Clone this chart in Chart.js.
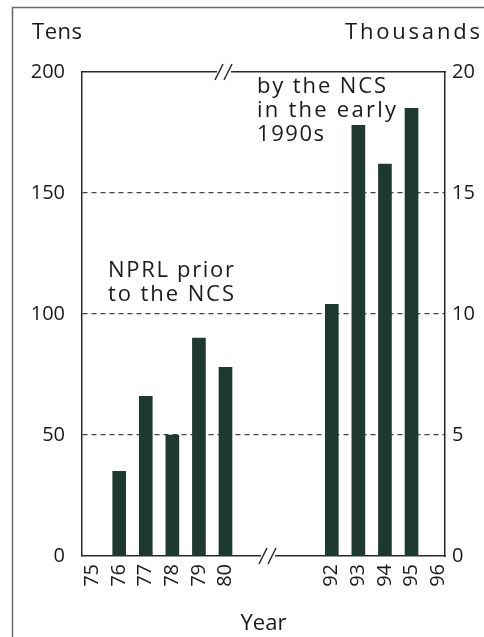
<!DOCTYPE html>
<html>
<head>
<meta charset="utf-8">
<script src="https://cdn.jsdelivr.net/npm/chart.js@4/dist/chart.umd.min.js"></script>
<style>
  html, body { margin: 0; padding: 0; background: #fff; }
  #wrap { width: 484px; height: 637px; position: relative; }
</style>
</head>
<body>
<div id="wrap"><canvas id="c" width="484" height="637"></canvas></div>
<script>
// Year slots along the x axis; blank slots form the broken stretch between 1980 and 1992
const yearSlots = ['75', '76', '77', '78', '79', '80', '', '', '', '92', '93', '94', '95', '96'];

// NPRL, before the NCS (left axis, tens)
const earlyYears = ['76', '77', '78', '79', '80'];
const earlyTens = [35, 66, 50, 90, 78];

// NCS, early 1990s (right axis, thousands)
const lateYears = ['92', '93', '94', '95'];
const lateThousands = [10.4, 17.8, 16.2, 18.5];

const leftTicks = [0, 50, 100, 150, 200];
const rightTicks = [0, 5, 10, 15, 20];

const FONT = '"Open Sans", "DejaVu Sans", sans-serif';
const INK = '#1a1a1a';
const FRAME = '#2a2a2a';
const BAR = '#1e3a30';

const toPoints = (years, values) => years.map((yr, i) => ({ x: yearSlots.indexOf(yr), y: values[i] }));

// draws a line of text, tracked out if needed so it spans the given width
function spacedText(ctx, text, x, y, width) {
  ctx.letterSpacing = '0px';
  const natural = ctx.measureText(text).width;
  const gaps = Math.max(text.length - 1, 1);
  const spacing = Math.max(0, (width - natural) / gaps);
  ctx.letterSpacing = spacing.toFixed(2) + 'px';
  ctx.fillText(text, x, y);
  ctx.letterSpacing = '0px';
}

const decorations = {
  id: 'decorations',
  beforeDraw(chart) {
    const ctx = chart.ctx;
    ctx.save();
    ctx.strokeStyle = '#6a6a6a';
    ctx.lineWidth = 1.5;
    ctx.beginPath();
    ctx.moveTo(12.5, 637);
    ctx.lineTo(12.5, 7.5);
    ctx.lineTo(484, 7.5);
    ctx.stroke();
    ctx.restore();
  },
  afterDraw(chart) {
    const ctx = chart.ctx;
    const area = chart.chartArea;
    ctx.save();

    // axis breaks on the top and bottom lines
    const breakMark = (x0, y) => {
      ctx.fillStyle = '#fff';
      ctx.fillRect(x0 + 2, y - 2, 14, 4);
      ctx.strokeStyle = FRAME;
      ctx.lineWidth = 1.5;
      ctx.beginPath();
      ctx.moveTo(x0, y + 8);
      ctx.lineTo(x0 + 8, y - 8);
      ctx.moveTo(x0 + 9, y + 8);
      ctx.lineTo(x0 + 17, y - 8);
      ctx.stroke();
    };
    breakMark(215, area.top);
    breakMark(259, area.bottom);

    ctx.fillStyle = INK;
    ctx.font = '22px ' + FONT;
    ctx.textBaseline = 'middle';
    ctx.textAlign = 'left';

    // axis unit headings
    spacedText(ctx, 'Tens', 32, 33, 50);
    spacedText(ctx, 'Thousands', 345, 33, 135);

    // period annotations
    spacedText(ctx, 'NPRL prior', 108, 271, 126);
    spacedText(ctx, 'to the NCS', 108, 295, 126);
    spacedText(ctx, 'by the NCS', 257, 87, 129);
    spacedText(ctx, 'in the early', 257, 111, 139);
    spacedText(ctx, '1990s', 257, 135, 67);
    ctx.restore();
  }
};

new Chart(document.getElementById('c'), {
  type: 'bar',
  data: {
    datasets: [
      {
        label: 'NPRL prior to the NCS',
        data: toPoints(earlyYears, earlyTens),
        yAxisID: 'y',
        backgroundColor: BAR,
        barThickness: 13,
        grouped: false
      },
      {
        label: 'by the NCS in the early 1990s',
        data: toPoints(lateYears, lateThousands),
        yAxisID: 'y2',
        backgroundColor: BAR,
        barThickness: 13,
        grouped: false
      }
    ]
  },
  options: {
    responsive: false,
    animation: false,
    devicePixelRatio: 1,
    layout: { padding: { top: 72, left: 0, right: 0, bottom: 0 } },
    plugins: { legend: { display: false }, tooltip: { enabled: false } },
    scales: {
      x: {
        type: 'linear',
        position: 'bottom',
        min: -0.4,
        max: 13.26,
        offset: false,
        afterBuildTicks(scale) {
          scale.ticks = yearSlots.map((s, i) => (s ? { value: i } : null)).filter(Boolean);
        },
        afterFit(scale) { scale.height = 81; },
        ticks: {
          autoSkip: false,
          minRotation: 90,
          maxRotation: 90,
          padding: 8,
          color: INK,
          font: { family: FONT, size: 20 },
          callback: (v) => yearSlots[v] || ''
        },
        grid: { display: false, drawTicks: false },
        border: { display: true, color: FRAME, width: 1.5 },
        title: {
          display: true,
          text: 'Year',
          color: INK,
          font: { family: FONT, size: 22 },
          padding: { top: 0, bottom: 0 }
        }
      },
      xTop: {
        type: 'linear',
        position: 'top',
        min: -0.4,
        max: 13.26,
        offset: false,
        afterFit(scale) { scale.height = 0; },
        ticks: { display: false },
        grid: { display: false, drawTicks: false },
        border: { display: true, color: FRAME, width: 1.5 }
      },
      y: {
        type: 'linear',
        position: 'left',
        min: 0,
        max: 200,
        afterBuildTicks(scale) { scale.ticks = leftTicks.map((v) => ({ value: v })); },
        afterFit(scale) { scale.width = 82; },
        ticks: {
          padding: 17,
          color: INK,
          font: { family: FONT, size: 20 }
        },
        grid: {
          drawTicks: false,
          lineWidth: 1.2,
          color: (ctx) => (ctx.tick && ctx.tick.value > 0 && ctx.tick.value < 200 ? '#444' : 'rgba(0,0,0,0)')
        },
        border: { display: true, color: FRAME, width: 1.5, dash: [5, 4] }
      },
      y2: {
        type: 'linear',
        position: 'right',
        min: 0,
        max: 20,
        afterBuildTicks(scale) { scale.ticks = rightTicks.map((v) => ({ value: v })); },
        afterFit(scale) { scale.width = 39; },
        ticks: {
          padding: 7,
          color: INK,
          font: { family: FONT, size: 20 }
        },
        grid: { display: false, drawTicks: false },
        border: { display: true, color: FRAME, width: 1.5 }
      }
    }
  },
  plugins: [decorations]
});
</script>
</body>
</html>
